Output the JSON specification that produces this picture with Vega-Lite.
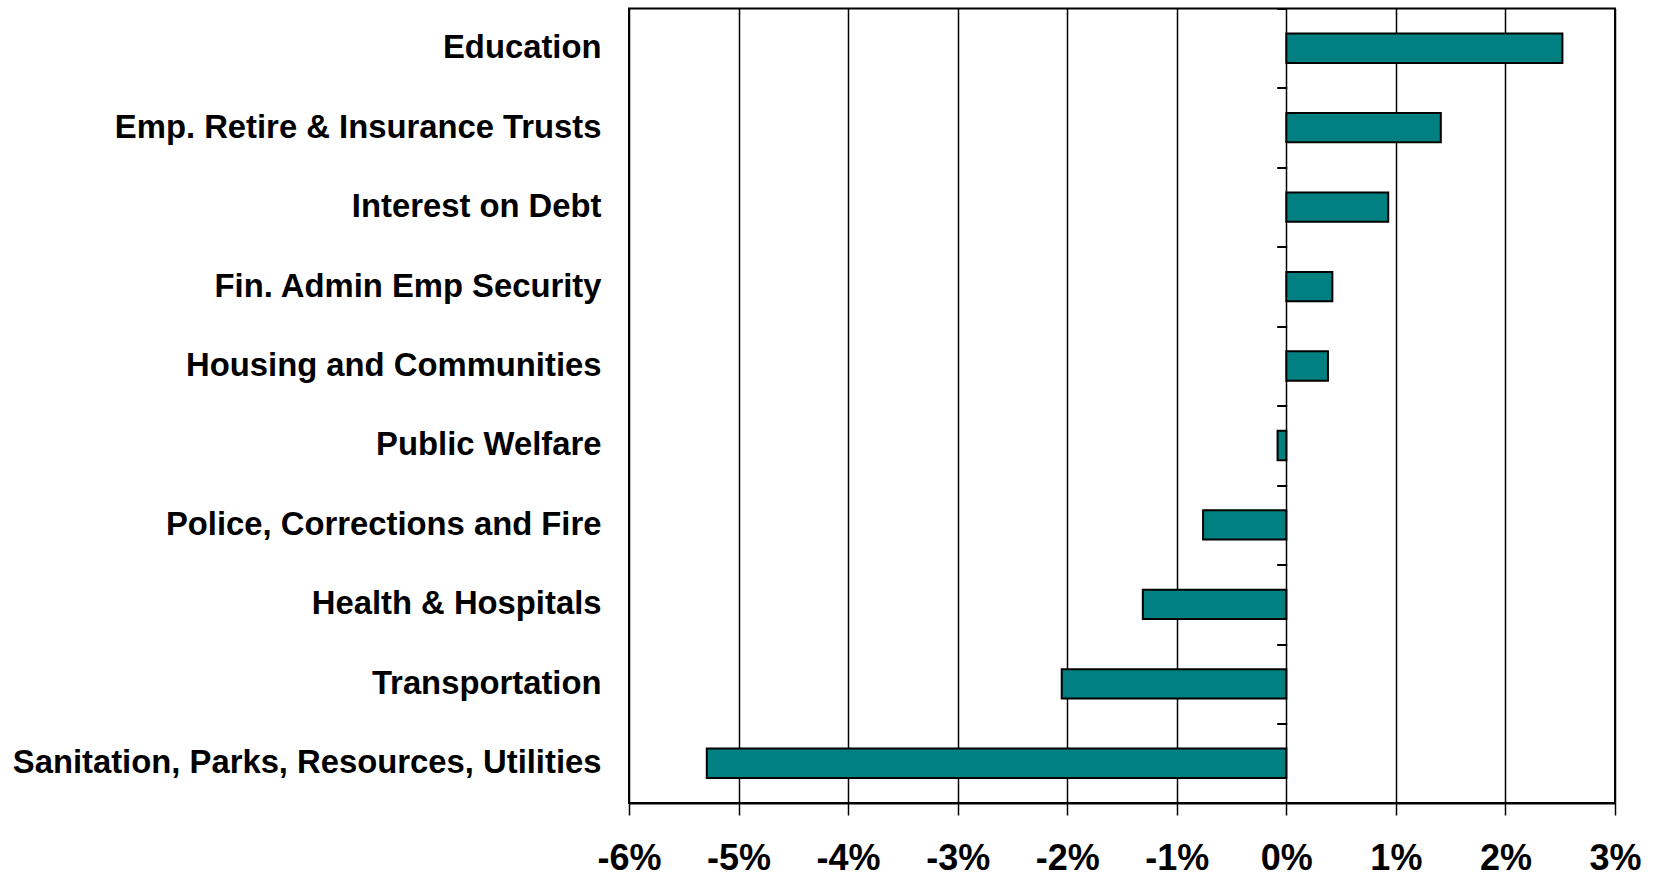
{
  "$schema": "https://vega.github.io/schema/vega-lite/v6.json",
  "autosize": "none",
  "padding": {"left": 629, "top": 8.5, "right": 42, "bottom": 78},
  "width": 986,
  "height": 794.5,
  "background": "white",
  "config": {
    "view": {"stroke": "black", "strokeWidth": 2},
    "font": "Liberation Sans"
  },
  "data": {
    "values": [
      {"category": "Education", "change": 0.0252},
      {"category": "Emp. Retire & Insurance Trusts", "change": 0.0141},
      {"category": "Interest on Debt", "change": 0.0093},
      {"category": "Fin. Admin Emp Security", "change": 0.0042},
      {"category": "Housing and Communities", "change": 0.0038},
      {"category": "Public Welfare", "change": -0.0008},
      {"category": "Police, Corrections and Fire", "change": -0.0076},
      {"category": "Health & Hospitals", "change": -0.0131},
      {"category": "Transportation", "change": -0.0205},
      {"category": "Sanitation, Parks, Resources, Utilities", "change": -0.0529}
    ]
  },
  "layer": [
    {
      "mark": {"type": "bar", "color": "#008080", "stroke": "black", "strokeWidth": 2},
      "encoding": {
        "y": {
          "field": "category", "type": "nominal", "sort": null,
          "scale": {"paddingInner": 0.63, "paddingOuter": 0.315},
          "axis": {
            "title": null, "domain": false, "ticks": false, "grid": false,
            "labelFont": "Liberation Sans", "labelFontWeight": "bold", "labelFontSize": 32.8,
            "labelColor": "black", "labelPadding": 28, "labelLimit": 700
          }
        },
        "x": {
          "field": "change", "type": "quantitative",
          "scale": {"domain": [-0.06, 0.03], "nice": false, "zero": false},
          "axis": {
            "title": null, "format": ".0%",
            "labelExpr": "replace(datum.label, '\u2212', '-')",
            "values": [-0.06, -0.05, -0.04, -0.03, -0.02, -0.01, 0, 0.01, 0.02, 0.03],
            "grid": true, "gridColor": "black", "gridWidth": 1.5, "gridOpacity": 1,
            "domain": true, "domainColor": "black", "domainWidth": 2,
            "ticks": true, "tickColor": "black", "tickWidth": 1.5, "tickSize": 12,
            "labelFont": "Liberation Sans", "labelFontWeight": "bold", "labelFontSize": 36,
            "labelColor": "black", "labelPadding": 26, "labelFlush": false
          }
        }
      }
    },
    {
      "mark": {"type": "bar", "opacity": 0},
      "encoding": {
        "y": {
          "field": "category", "type": "nominal", "sort": null,
          "scale": {"paddingInner": 0.63, "paddingOuter": 0.315},
          "axis": {
            "orient": "left", "offset": -657.7, "title": null, "domain": false, "labels": false,
            "grid": false, "ticks": true, "bandPosition": 0, "tickOffset": -25, "tickSize": 10,
            "tickColor": "black", "tickWidth": 2
          }
        },
        "x": {"field": "change", "type": "quantitative"}
      }
    }
  ],
  "resolve": {"axis": {"y": "independent"}}
}
